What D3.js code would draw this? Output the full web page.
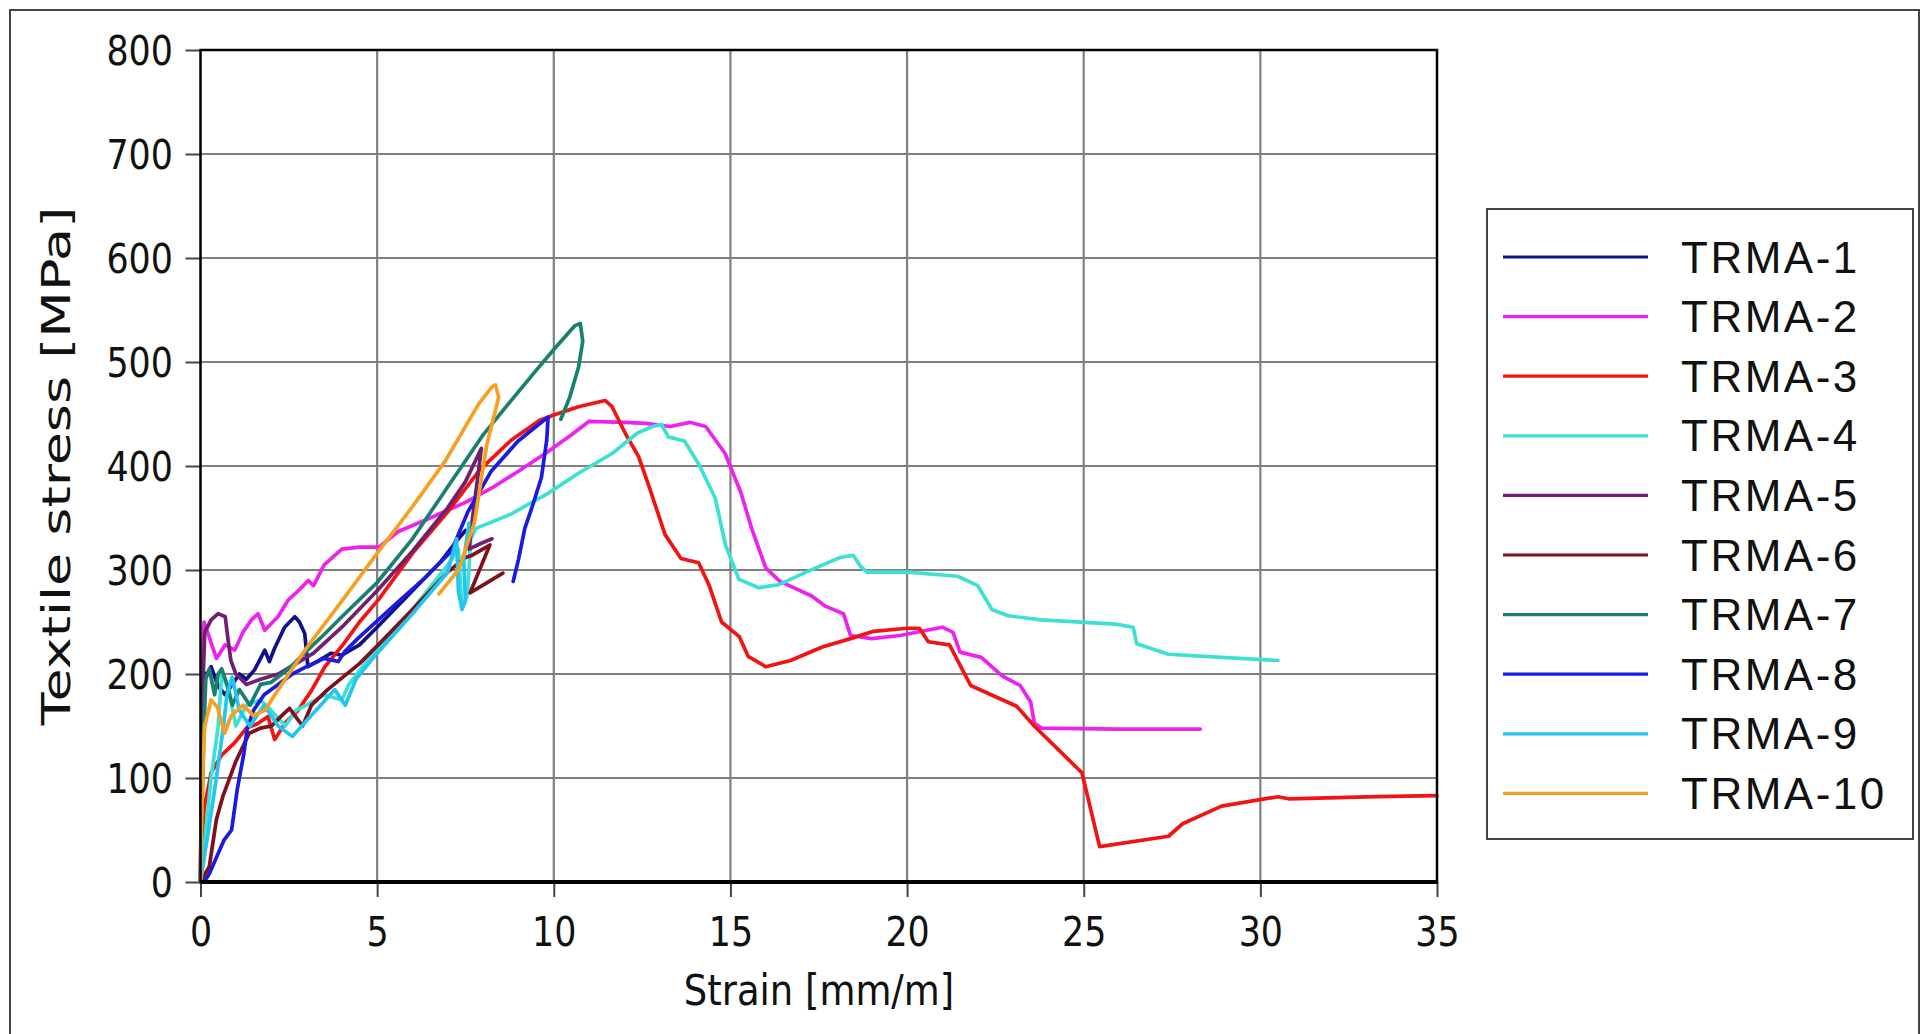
<!DOCTYPE html>
<html>
<head>
<meta charset="utf-8">
<script src="https://cdn.jsdelivr.net/npm/d3@7"></script>
<style>
	body { margin: 0; background: #fff; }
	svg { display: block; }
</style>
</head>
<body>
<div id="chart"></div>
<script>
// test names, colours and axis ticks
var seriesNames = ["TRMA-1", "TRMA-2", "TRMA-3", "TRMA-4", "TRMA-5", "TRMA-6", "TRMA-7", "TRMA-8", "TRMA-9", "TRMA-10"];
var seriesColors = ["#10108a", "#ee22ee", "#f01414", "#3ee0d6", "#702070", "#80101c", "#18806e", "#1a1ae0", "#22c6f0", "#f5a020"];
var xTicks = [0, 5, 10, 15, 20, 25, 30, 35];
var yTicks = [0, 100, 200, 300, 400, 500, 600, 700, 800];

// [strain mm/m, textile stress MPa]
var trma1 = [[0,0],[0.03,110],[0.06,170],[0.1,200],[0.21,201],[0.3,207],[0.5,188],[0.7,180],[0.9,190],[1.1,200],[1.3,195],[1.53,204],[1.7,215],[1.82,223],[1.95,212],[2.1,225],[2.38,245],[2.67,255],[2.8,250],[2.95,239],[3.04,207],[3.3,212],[3.7,220],[4.0,218],[4.5,228],[5.0,245],[6.0,280],[6.8,308],[7.3,330],[7.5,338]];
var trma2 = [[0,0],[0.02,100],[0.05,200],[0.1,250],[0.2,240],[0.45,215],[0.7,228],[0.97,223],[1.2,240],[1.44,252],[1.63,258],[1.82,242],[2.19,255],[2.48,271],[2.8,281],[3.05,290],[3.2,285],[3.5,305],[4.0,320],[4.5,322],[5.05,322],[5.6,337],[6.5,350],[7.5,365],[8.3,380],[9.0,395],[9.8,413],[10.5,430],[11.0,443],[12.0,442],[12.6,441],[13.3,438],[13.85,442],[14.3,438],[14.85,412],[15.3,374],[15.6,340],[16.0,302],[16.4,289],[17.3,275],[17.7,265],[18.2,258],[18.4,237],[19.0,234],[19.8,237],[21.0,245],[21.3,240],[21.5,221],[22.1,216],[22.7,198],[23.2,189],[23.5,173],[23.6,153],[23.8,148],[26.0,147],[28.3,147]];
var trma3 = [[0,0],[0.05,40],[0.1,70],[0.3,105],[0.6,122],[0.97,134],[1.3,148],[1.6,152],[1.91,159],[2.1,137],[2.4,153],[2.76,165],[3.14,184],[3.52,207],[4.03,228],[4.5,250],[5.05,272],[6.0,316],[7.0,356],[7.9,396],[8.8,425],[9.6,444],[10.0,449],[10.7,457],[11.45,463],[11.65,457],[12.03,431],[12.4,409],[12.7,380],[13.15,334],[13.6,311],[14.1,307],[14.4,285],[14.75,250],[15.25,236],[15.5,217],[16.0,207],[16.7,213],[17.6,226],[18.4,234],[19.05,241],[20.0,244],[20.35,244],[20.6,231],[21.2,228],[21.8,189],[23.1,169],[23.6,150],[24.95,105],[25.45,34],[27.4,44],[27.8,56],[28.9,73],[30.5,82],[30.8,80],[33.3,82],[35,83]];
var trma4 = [[0,0],[0.15,50],[0.3,100],[0.5,150],[0.6,200],[0.8,185],[1.0,150],[1.3,170],[1.7,175],[2.0,165],[2.4,150],[2.7,165],[3.0,170],[3.5,180],[4.0,175],[4.2,190],[5.0,225],[6.0,262],[7.0,305],[7.3,320],[7.4,265],[7.55,275],[7.65,330],[7.8,340],[8.8,354],[9.8,373],[10.7,393],[11.65,412],[12.38,432],[12.8,438],[13.05,440],[13.24,428],[13.7,424],[14.1,402],[14.57,369],[14.86,324],[15.24,291],[15.8,283],[16.38,286],[17.14,298],[18.1,312],[18.48,314],[18.67,304],[18.86,298],[20.0,298],[21.43,294],[22.0,285],[22.4,262],[22.86,256],[23.8,252],[25.9,248],[26.4,245],[26.5,229],[27.4,219],[28.9,216],[30.5,213]];
var trma5 = [[0,0],[0.03,100],[0.06,180],[0.12,240],[0.3,252],[0.5,258],[0.7,255],[0.78,233],[0.86,213],[1.0,200],[1.3,190],[1.7,195],[2.2,200],[2.7,210],[3.2,220],[4.0,245],[5.0,280],[6.0,318],[7.0,360],[7.5,385],[7.95,417],[7.85,390],[7.7,350],[7.6,320],[7.9,325],[8.25,330]];
var trma6 = [[0,0],[0.25,15],[0.45,60],[0.63,82],[1.0,116],[1.38,143],[1.7,148],[2.01,150],[2.3,160],[2.52,167],[2.89,150],[3.14,170],[3.6,185],[4.03,197],[4.5,210],[5.03,228],[6.0,262],[7.0,298],[7.5,312],[7.68,314],[8.19,324],[7.63,278],[8.56,297]];
var trma7 = [[0,0],[0.05,80],[0.1,150],[0.15,195],[0.25,205],[0.4,180],[0.5,200],[0.6,205],[0.75,190],[0.9,170],[1.1,185],[1.4,170],[1.7,190],[2.0,192],[2.5,205],[3.0,222],[3.5,238],[4.0,255],[5.0,288],[6.0,330],[7.0,380],[7.4,400],[8.0,430],[8.6,455],[9.5,492],[10.0,512],[10.6,535],[10.75,537],[10.82,520],[10.7,495],[10.45,466],[10.2,445]];
var trma8 = [[0.1,0],[0.25,8],[0.66,40],[0.88,50],[1.04,89],[1.23,124],[1.32,147],[1.5,165],[1.8,180],[2.2,190],[2.6,200],[3.0,207],[3.5,215],[3.9,212],[4.07,221],[4.45,234],[5.39,263],[6.34,292],[7.1,318],[7.57,356],[8.23,395],[8.99,424],[9.5,438],[9.84,447],[9.8,425],[9.65,389],[9.4,362],[9.18,340],[9.0,310],[8.85,289]];
var trma9 = [[0,0],[0.25,55],[0.45,100],[0.65,150],[0.75,180],[0.9,197],[1.1,165],[1.4,150],[1.8,170],[2.2,150],[2.6,140],[3.0,155],[3.4,170],[3.8,185],[4.1,170],[4.4,195],[5.0,220],[6.0,258],[7.0,298],[7.25,330],[7.3,280],[7.4,262],[7.5,270],[7.45,310],[7.6,345]];
var trma10 = [[0,0],[0.03,60],[0.08,120],[0.12,150],[0.3,175],[0.48,168],[0.68,143],[0.87,160],[1.2,170],[1.5,160],[1.82,165],[2.2,185],[2.6,205],[3.0,225],[4.0,270],[5.0,316],[6.0,361],[6.93,405],[7.88,460],[8.25,476],[8.35,478],[8.44,466],[8.1,420],[7.75,345],[7.3,300],[6.75,277]];

var allSeries = [trma1, trma2, trma3, trma4, trma5, trma6, trma7, trma8, trma9, trma10];

var margin = { top: 50, left: 200.5 },
	width = 1236.5,
	height = 832;

var svg = d3.select("#chart")
	.append("svg")
	.attr("width", 1929)
	.attr("height", 1034);

// outer frame
svg.append("rect")
	.attr("x", 10)
	.attr("y", 10)
	.attr("width", 1909)
	.attr("height", 1040)
	.attr("fill", "#fff")
	.attr("stroke", "#444")
	.attr("stroke-width", 2);

var g = svg.append("g")
	.attr("transform", "translate(" + margin.left + "," + margin.top + ")");

var x = d3.scaleLinear().domain([0, 35]).range([0, width]);
var y = d3.scaleLinear().domain([0, 800]).range([height, 0]);

// grid
g.append("g")
	.selectAll("line")
	.data(yTicks.slice(1, -1))
	.enter()
	.append("line")
	.attr("x1", 0)
	.attr("x2", width)
	.attr("y1", function(d) { return y(d); })
	.attr("y2", function(d) { return y(d); })
	.attr("stroke", "#808080")
	.attr("stroke-width", 2.2);
g.append("g")
	.selectAll("line")
	.data(xTicks.slice(1, -1))
	.enter()
	.append("line")
	.attr("y1", 0)
	.attr("y2", height)
	.attr("x1", function(d) { return x(d); })
	.attr("x2", function(d) { return x(d); })
	.attr("stroke", "#808080")
	.attr("stroke-width", 2.2);

// axes
var xAxis = g.append("g")
	.attr("transform", "translate(0," + height + ")")
	.call(d3.axisBottom(x).tickValues(xTicks).tickSize(15).tickPadding(20).tickFormat(d3.format("d")));
var yAxis = g.append("g")
	.call(d3.axisLeft(y).tickValues(yTicks).tickSize(15).tickPadding(17.5).tickFormat(d3.format("d")));

[xAxis, yAxis].forEach(function(ax) {
	ax.attr("font-family", "DejaVu Sans").attr("font-size", 41);
	ax.select(".domain").remove();
	ax.selectAll(".tick line").attr("stroke", "#444").attr("stroke-width", 2);
	ax.selectAll(".tick text")
		.attr("fill", "#111")
		.attr("transform", "scale(0.85,1)");
});
yAxis.selectAll(".tick text").attr("dy", "0.36em");

// series
var line = d3.line()
	.x(function(d) { return x(d[0]); })
	.y(function(d) { return y(d[1]); });

g.append("g")
	.selectAll("path")
	.data(allSeries)
	.enter()
	.append("path")
	.attr("d", line)
	.attr("fill", "none")
	.attr("stroke", function(d, i) { return seriesColors[i]; })
	.attr("stroke-width", 3.7)
	.attr("stroke-linejoin", "round")
	.attr("stroke-linecap", "round");

// plot border
g.append("rect")
	.attr("width", width)
	.attr("height", height)
	.attr("fill", "none")
	.attr("stroke", "#000")
	.attr("stroke-width", 2.5);
g.append("line")
	.attr("x1", 0).attr("x2", width)
	.attr("y1", height).attr("y2", height)
	.attr("stroke", "#000")
	.attr("stroke-width", 4);

// axis titles
svg.append("text")
	.attr("transform", "translate(819,1005) scale(0.88,1)")
	.attr("text-anchor", "middle")
	.attr("font-family", "DejaVu Sans")
	.attr("font-size", 42)
	.attr("fill", "#111")
	.text("Strain [mm/m]");
svg.append("text")
	.attr("transform", "translate(70,466) rotate(-90) scale(1,0.72)")
	.attr("text-anchor", "middle")
	.attr("font-family", "DejaVu Sans")
	.attr("font-size", 54)
	.attr("fill", "#111")
	.text("Textile stress [MPa]");

// legend
var legend = svg.append("g");
legend.append("rect")
	.attr("x", 1487)
	.attr("y", 209)
	.attr("width", 426)
	.attr("height", 630)
	.attr("fill", "#fff")
	.attr("stroke", "#444")
	.attr("stroke-width", 2);

var item = legend.selectAll(".item")
	.data(seriesNames)
	.enter()
	.append("g")
	.attr("transform", function(d, i) { return "translate(0," + (257 + i * 59.6) + ")"; });
item.append("line")
	.attr("x1", 1503)
	.attr("x2", 1648)
	.attr("stroke", function(d, i) { return seriesColors[i]; })
	.attr("stroke-width", 3.2);
item.append("text")
	.attr("x", 1681)
	.attr("y", 15.5)
	.attr("font-family", "Liberation Sans")
	.attr("font-size", 44)
	.attr("letter-spacing", 2.5)
	.attr("fill", "#111")
	.text(function(d) { return d; });
</script>
</body>
</html>
